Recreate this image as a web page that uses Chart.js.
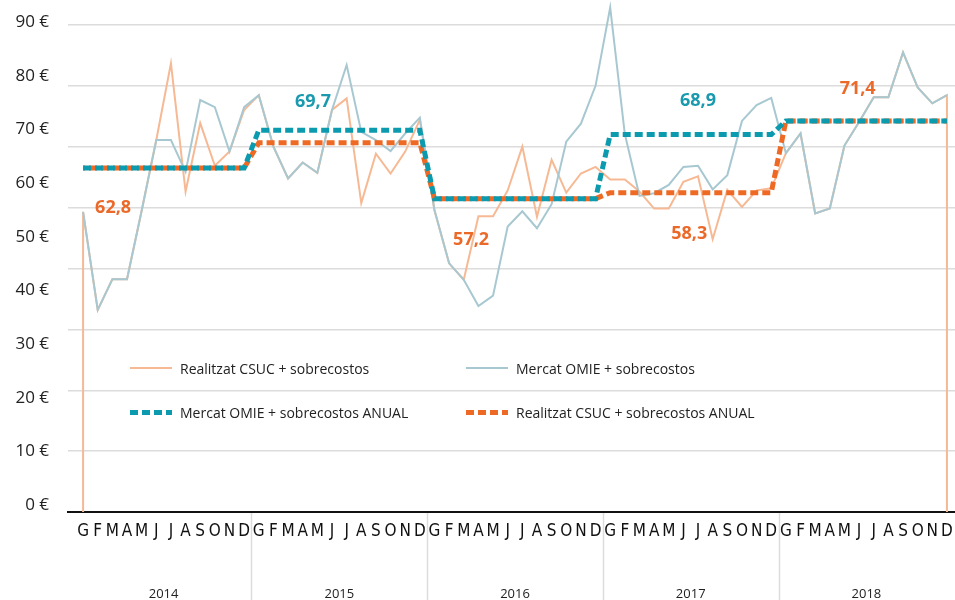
<!DOCTYPE html>
<html>
<head>
<meta charset="utf-8">
<script src="https://cdn.jsdelivr.net/npm/chart.js@4.4.1/dist/chart.umd.min.js"></script>
<style>
  html, body { margin: 0; padding: 0; background: #fff; }
  #wrap { position: relative; width: 955px; height: 600px; }
  #legend { position: absolute; left: 0; top: 0; font: 14px 'Open Sans', sans-serif; color: #222; }
  .item { position: absolute; display: flex; align-items: center; height: 20px; white-space: nowrap; }
  .swatch { width: 42px; margin-right: 8px; }
</style>
</head>
<body>
<div id="wrap">
  <canvas id="chart" width="955" height="600"></canvas>
  <div id="legend"></div>
</div>
<script>
const years = ['2014', '2015', '2016', '2017', '2018'];
const months = ['G', 'F', 'M', 'A', 'M', 'J', 'J', 'A', 'S', 'O', 'N', 'D'];
const yTickValues = [0, 10, 20, 30, 40, 50, 60, 70, 80, 90];

// €/MWh mensual, gener 2014 - desembre 2018
const csuc = [
    54.8, 36.9, 42.5, 42.5, 55.0, 67.9, 81.9, 58.5, 71.0, 63.2, 65.8, 73.4,
    76.1, 66.7, 60.9, 63.8, 61.9, 73.4, 75.5, 56.4, 65.4, 61.8, 65.8, 71.6,
    55.1, 45.4, 42.4, 54.0, 54.0, 58.7, 66.7, 53.9, 64.3, 58.3, 61.8, 63.0,
    60.7, 60.7, 58.5, 55.4, 55.4, 60.3, 61.3, 49.8, 58.8, 55.7, 58.7, 59.1,
    65.5, 69.1, 54.5, 55.4, 66.9, 71.2, 75.7, 75.7, 83.9, 77.5, 74.6, 76.1
];
const omie = [
    54.8, 36.9, 42.5, 42.5, 55.0, 67.9, 67.9, 62.1, 75.2, 73.9, 65.8, 73.9,
    76.1, 66.7, 60.9, 63.8, 61.9, 73.4, 81.6, 69.4, 67.9, 65.9, 69.1, 72.0,
    55.1, 45.4, 42.4, 37.6, 39.5, 52.1, 54.9, 51.8, 56.2, 67.6, 70.9, 77.8,
    92.1, 69.0, 57.7, 58.2, 59.7, 63.0, 63.2, 58.9, 61.5, 71.4, 74.3, 75.6,
    65.5, 69.1, 54.5, 55.4, 66.9, 71.2, 75.7, 75.7, 83.9, 77.5, 74.6, 76.1
];
const csucAnnual = [62.8, 67.4, 57.2, 58.3, 71.4];
const omieAnnual = [62.8, 69.7, 57.2, 68.9, 71.4];

const ORANGE_THIN = '#f6b994';
const BLUE_THIN = '#a8c8d1';
const TEAL = '#0b9aae';
const ORANGE = '#ee6a24';

const last = csuc.length - 1;
const csucPoints = [{x: 0, y: 0}, ...csuc.map((v, i) => ({x: i, y: v})), {x: last, y: 0}];
const omiePoints = omie.map((v, i) => ({x: i, y: v}));
const omieAnnualPoints = omie.map((v, i) => ({x: i, y: omieAnnual[Math.floor(i / 12)]}));
const csucAnnualPoints = csuc.map((v, i) => ({x: i, y: csucAnnual[Math.floor(i / 12)]}));

// etiquetes de les mitjanes anuals: posició en mesos i desplaçament vertical
const valueLabels = [
    {series: 'csuc', year: 0, at: 2.05, dy: 40},
    {series: 'omie', year: 1, at: 15.7, dy: -28},
    {series: 'csuc', year: 2, at: 26.5, dy: 41},
    {series: 'omie', year: 3, at: 42.0, dy: -34},
    {series: 'csuc', year: 3, at: 41.4, dy: 41},
    {series: 'csuc', year: 4, at: 52.9, dy: -32},
];

const yearSeparators = {
    id: 'yearSeparators',
    afterDraw(chart) {
        const {ctx, chartArea, scales: {x}} = chart;
        ctx.save();
        ctx.strokeStyle = '#dcdcdc';
        ctx.lineWidth = 1.5;
        for (let i = 1; i < years.length; i++) {
            const px = Math.round(x.getPixelForValue(i * 12 - 0.5)) + 0.5;
            ctx.beginPath();
            ctx.moveTo(px, chartArea.bottom + 1);
            ctx.lineTo(px, chart.height);
            ctx.stroke();
        }
        ctx.restore();
    }
};

const annualLabels = {
    id: 'annualLabels',
    afterDatasetsDraw(chart) {
        const {ctx, scales: {x, y}} = chart;
        ctx.save();
        ctx.font = 'bold 18px "Open Sans", sans-serif';
        ctx.textAlign = 'center';
        ctx.textBaseline = 'middle';
        valueLabels.forEach(l => {
            const v = (l.series === 'omie' ? omieAnnual : csucAnnual)[l.year];
            ctx.fillStyle = l.series === 'omie' ? '#1a9aae' : '#eb6a2a';
            ctx.fillText(v.toFixed(1).replace('.', ','), x.getPixelForValue(l.at), y.getPixelForValue(v) + l.dy);
        });
        ctx.restore();
    }
};

// sense marges automàtics: l'àrea del gràfic la fixen layout.padding i les mides dels eixos
function noPadding(scale) {
    scale.paddingTop = 0;
    scale.paddingBottom = 0;
    scale.paddingLeft = 0;
    scale.paddingRight = 0;
}

const xMin = -1.03;
const xMax = 59.55;

const chart = new Chart(document.getElementById('chart'), {
    type: 'line',
    data: {
        datasets: [
            {
                label: 'Mercat OMIE + sobrecostos ANUAL',
                data: omieAnnualPoints,
                borderColor: TEAL,
                borderWidth: 5,
                borderDash: [8, 4],
                borderCapStyle: 'butt',
            },
            {
                label: 'Realitzat CSUC + sobrecostos ANUAL',
                data: csucAnnualPoints,
                borderColor: ORANGE,
                borderWidth: 5,
                borderDash: [8, 4],
                borderDashOffset: 6,
                borderCapStyle: 'butt',
            },
            {
                label: 'Mercat OMIE + sobrecostos',
                data: omiePoints,
                borderColor: BLUE_THIN,
                borderWidth: 2,
                clip: false,
            },
            {
                label: 'Realitzat CSUC + sobrecostos',
                data: csucPoints,
                borderColor: ORANGE_THIN,
                borderWidth: 2,
                clip: false,
            },
        ]
    },
    options: {
        responsive: false,
        animation: false,
        events: [],
        elements: {
            point: {radius: 0},
            line: {tension: 0, fill: false},
        },
        layout: {padding: {top: 19, left: 0, right: 0, bottom: 0}},
        plugins: {
            legend: {display: false},
            tooltip: {enabled: false},
        },
        scales: {
            x: {
                type: 'linear',
                position: 'bottom',
                min: xMin,
                max: xMax,
                afterBuildTicks: (scale) => {
                    scale.ticks = csuc.map((v, i) => ({value: i}));
                },
                afterFit: (scale) => { scale.height = 30; noPadding(scale); },
                grid: {display: false, drawTicks: false},
                border: {display: true, color: '#111', width: 2},
                ticks: {
                    autoSkip: false,
                    maxRotation: 0,
                    minRotation: 0,
                    padding: 9,
                    color: '#111',
                    font: {family: "'Liberation Sans Narrow', 'DejaVu Sans Condensed', sans-serif", size: 17},
                    callback: (value) => months[value % 12],
                },
            },
            xYear: {
                type: 'linear',
                position: 'bottom',
                weight: 1,
                min: xMin,
                max: xMax,
                afterBuildTicks: (scale) => {
                    scale.ticks = years.map((y, i) => ({value: i * 12 + 5.5}));
                },
                afterFit: (scale) => { scale.height = 58; noPadding(scale); },
                grid: {display: false, drawTicks: false},
                border: {display: false},
                ticks: {
                    autoSkip: false,
                    maxRotation: 0,
                    padding: 44,
                    color: '#222',
                    font: {family: "'Open Sans', sans-serif", size: 13},
                    callback: (value, index) => years[index],
                },
            },
            y: {
                display: false,
                min: 0,
                max: 90,
            },
            yTicks: {
                position: 'left',
                min: -1.3,
                max: 90.56,
                afterBuildTicks: (scale) => {
                    scale.ticks = yTickValues.map(v => ({value: v}));
                },
                afterFit: (scale) => { scale.width = 68; noPadding(scale); },
                grid: {display: false, drawTicks: false},
                border: {display: false},
                ticks: {
                    padding: 19,
                    color: '#222',
                    font: {family: "'Open Sans', sans-serif", size: 17},
                    callback: (value) => value + ' €',
                },
            },
            yGrid: {
                position: 'left',
                min: 0,
                max: 8.1,
                afterBuildTicks: (scale) => {
                    scale.ticks = [1, 2, 3, 4, 5, 6, 7, 8].map(v => ({value: v}));
                },
                afterFit: (scale) => { scale.width = 0; noPadding(scale); },
                grid: {color: '#dcdcdc', lineWidth: 1.5, drawTicks: false},
                border: {display: false},
                ticks: {display: false},
            },
        }
    },
    plugins: [yearSeparators, annualLabels]
});

// llegenda en dues columnes dins l'àrea del gràfic
const legendSlots = [
    {dataset: 3, left: 130, top: 358},
    {dataset: 2, left: 466, top: 358},
    {dataset: 0, left: 130, top: 402},
    {dataset: 1, left: 466, top: 402},
];
const legend = document.getElementById('legend');
legendSlots.forEach(slot => {
    const ds = chart.data.datasets[slot.dataset];
    const item = document.createElement('div');
    item.className = 'item';
    item.style.left = slot.left + 'px';
    item.style.top = slot.top + 'px';
    const sw = document.createElement('div');
    sw.className = 'swatch';
    if (ds.borderDash) {
        const [on, off] = ds.borderDash;
        sw.style.height = '5px';
        sw.style.background = `repeating-linear-gradient(90deg, ${ds.borderColor} 0 ${on}px, transparent ${on}px ${on + off}px)`;
    } else {
        sw.style.height = ds.borderWidth + 'px';
        sw.style.background = ds.borderColor;
    }
    const text = document.createElement('span');
    text.textContent = ds.label;
    item.appendChild(sw);
    item.appendChild(text);
    legend.appendChild(item);
});
</script>
</body>
</html>
